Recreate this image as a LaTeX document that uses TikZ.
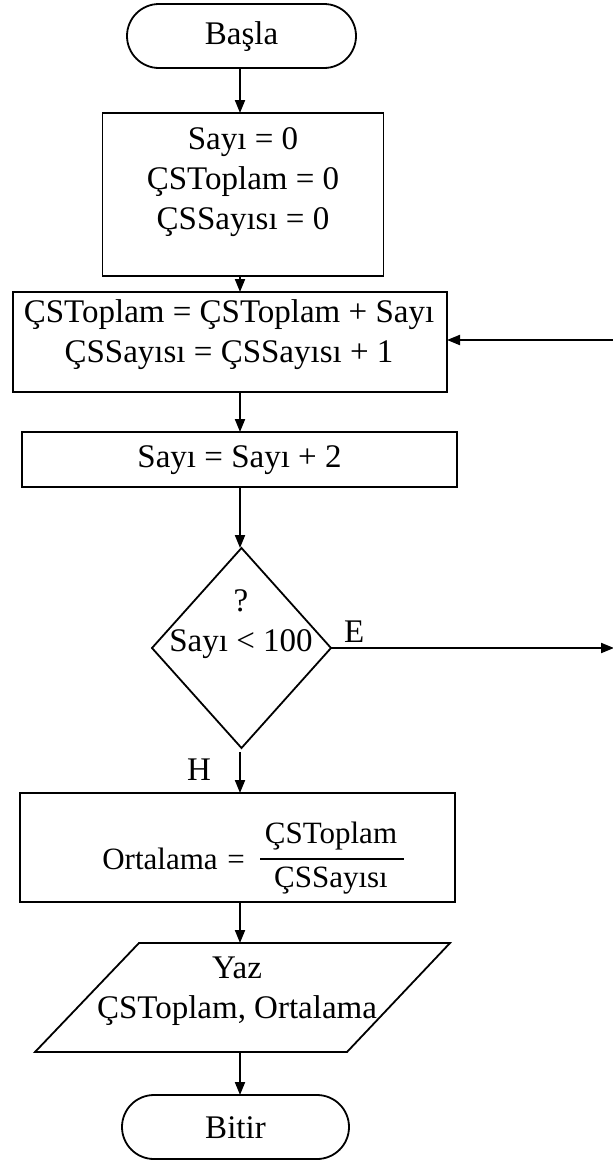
\documentclass[tikz,border=0pt]{standalone}
\usepackage{fontspec}
\setmainfont{Liberation Serif}
\usetikzlibrary{arrows.meta,shapes.geometric,shapes.misc,calc}

\begin{document}
\begin{tikzpicture}[x=1pt,y=-1pt,
  every node/.style={inner sep=0pt, outer sep=0pt},
  txt/.style={font=\fontsize{33}{40}\selectfont, align=center},
  smalltxt/.style={font=\fontsize{31}{38}\selectfont},
  shape line/.style={draw=black, line width=1.8pt},
  procbox/.style={shape line, rectangle},
  terminal/.style={shape line, rounded rectangle},
  decision/.style={shape line, diamond},
  flow/.style={draw=black, line width=2pt, -{Triangle[length=13pt,width=10pt]}}
]
\useasboundingbox (0,0) rectangle (613,1162);

% vertical axis shared by the main flow arrows
\coordinate (axis) at (240,0);

% start
\node[terminal, minimum width=229pt, minimum height=64pt] (start) at (241.5,36) {};
\node[txt] at (241.5,37) {Başla};

% initialisation
\node[procbox, minimum width=281pt, minimum height=163pt] (init) at (243,194.5) {};
\node[txt] at (243,182) {Sayı = 0\\ÇSToplam = 0\\ÇSSayısı = 0};

% accumulate
\node[procbox, minimum width=434pt, minimum height=100pt] (acc) at (230,342) {};
\node[txt] at (229,335) {ÇSToplam = ÇSToplam + Sayı\\ÇSSayısı = ÇSSayısı + 1};

% next even number
\node[procbox, minimum width=435pt, minimum height=55pt] (next) at (239.5,459.5) {};
\node[txt] at (239.5,460) {Sayı = Sayı + 2};

% loop test
\node[decision, minimum width=179pt, minimum height=200pt] (test) at (241.5,648) {};
\node[txt] at (241,624) {?\\Sayı < 100};

% average
\node[procbox, minimum width=435pt, minimum height=109pt] (avg) at (237.5,847.5) {};
\node[smalltxt, anchor=base] at (160,869) {Ortalama};
\node[smalltxt, anchor=base] at (236,869) {=};
\node[smalltxt] (num) at (331,836) {ÇSToplam};
\node[smalltxt] (den) at (331,881) {ÇSSayısı};
\draw[line width=1.2pt] (260,859) -- (404,859);

% output
\node[minimum width=415pt, minimum height=109pt] (out) at (242.5,997.5) {};
\draw[shape line] ($(out.north west)+(104,0)$) -- (out.north east)
  -- ($(out.south east)+(-103,0)$) -- (out.south west) -- cycle;
\node[txt] at (237,991) {Yaz\\ÇSToplam, Ortalama};

% end
\node[terminal, minimum width=227pt, minimum height=64pt] (stop) at (235.5,1127) {};
\node[txt] at (235.5,1128) {Bitir};

% branch labels
\node[txt, anchor=west] at (344,632) {E};
\node[txt] at (199,770) {H};

% loop connectors leaving the picture on the right
\coordinate (loopin) at (613,340);
\coordinate (loopout) at (614,648);

% main flow
\draw[flow] (axis |- start.south) -- (axis |- init.north);
\draw[flow] (axis |- init.south) -- (axis |- acc.north);
\draw[flow] (axis |- acc.south) -- (axis |- next.north);
\draw[flow] (axis |- next.south) -- (axis |- test.north);
\draw[flow, shorten <=4pt] (axis |- test.south) -- (axis |- avg.north);
\draw[flow] (axis |- avg.south) -- (axis |- out.north);
\draw[flow] (axis |- out.south) -- (axis |- stop.north);

% branches
\draw[flow] (test.east) -- (loopout);
\draw[flow] (loopin) -- (acc.east |- loopin);
\end{tikzpicture}
\end{document}
